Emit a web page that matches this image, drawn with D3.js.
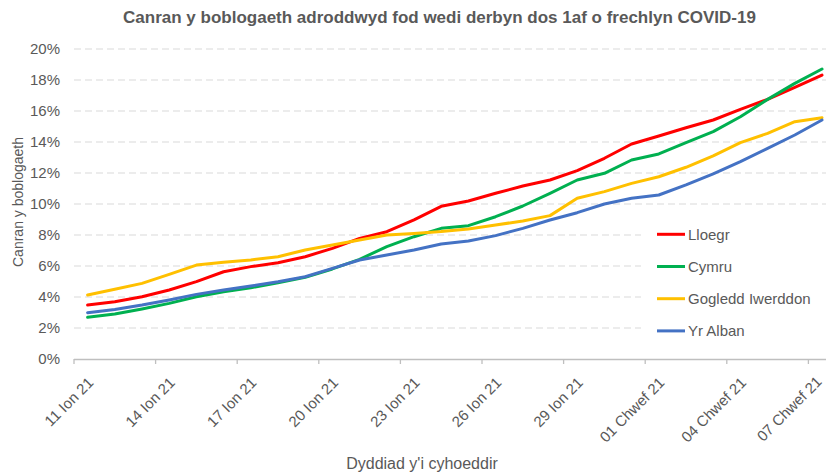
<!DOCTYPE html>
<html>
<head>
<meta charset="utf-8">
<script src="https://cdn.jsdelivr.net/npm/d3@7"></script>
<style>
  html, body { margin: 0; padding: 0; background: #fff; }
  svg { display: block; }
  text { font-family: "Liberation Sans", Arial, sans-serif; fill: #595959; }
</style>
</head>
<body>
<svg id="chart" width="826" height="475"></svg>
<script>
const dates = [
  "11 Ion 21","12 Ion 21","13 Ion 21","14 Ion 21","15 Ion 21","16 Ion 21","17 Ion 21",
  "18 Ion 21","19 Ion 21","20 Ion 21","21 Ion 21","22 Ion 21","23 Ion 21","24 Ion 21",
  "25 Ion 21","26 Ion 21","27 Ion 21","28 Ion 21","29 Ion 21","30 Ion 21","31 Ion 21",
  "01 Chwef 21","02 Chwef 21","03 Chwef 21","04 Chwef 21","05 Chwef 21","06 Chwef 21","07 Chwef 21"
];
const tickLabels = ["11 Ion 21","14 Ion 21","17 Ion 21","20 Ion 21","23 Ion 21","26 Ion 21",
  "29 Ion 21","01 Chwef 21","04 Chwef 21","07 Chwef 21"];
const yTicks = [0, 2, 4, 6, 8, 10, 12, 14, 16, 18, 20];

const lloegr = [3.48,3.70,4.02,4.45,4.99,5.63,5.96,6.21,6.60,7.14,7.78,8.21,8.97,9.85,
  10.19,10.69,11.16,11.55,12.15,12.95,13.87,14.39,14.92,15.42,16.11,16.75,17.53,18.32];
const cymru = [2.69,2.90,3.23,3.59,4.02,4.34,4.60,4.92,5.27,5.81,6.43,7.25,7.89,8.43,
  8.60,9.18,9.87,10.69,11.55,11.98,12.84,13.23,13.96,14.67,15.63,16.75,17.78,18.71];
const gogleddIwerddon = [4.13,4.50,4.88,5.46,6.06,6.24,6.39,6.60,7.03,7.35,7.68,8.00,8.10,8.22,
  8.39,8.65,8.90,9.25,10.37,10.80,11.33,11.76,12.37,13.10,13.96,14.56,15.31,15.57];
const yrAlban = [2.99,3.20,3.48,3.81,4.17,4.45,4.71,4.99,5.31,5.85,6.39,6.71,7.03,7.42,
  7.61,7.96,8.43,8.97,9.44,10.00,10.37,10.58,11.23,11.94,12.73,13.59,14.45,15.42];

const seriesNames = ["Lloegr","Cymru","Gogledd Iwerddon","Yr Alban"];
const seriesColors = ["#FF0000","#00B050","#FFC000","#4472C4"];
const seriesValues = [lloegr, cymru, gogleddIwerddon, yrAlban];

const svg = d3.select("#chart");
svg.append("rect").attr("width", 826).attr("height", 475).attr("fill", "#fff");

const x = d3.scaleBand().domain(dates).range([74, 835.6]).padding(0);
const y = d3.scaleLinear().domain([0, 20]).range([359, 49]);
const bw = x.bandwidth();
const cx = d => x(d) + bw / 2;

// title
svg.append("text")
  .attr("x", 439.5).attr("y", 23)
  .attr("text-anchor", "middle")
  .style("font-size", "17px").style("font-weight", "bold")
  .text("Canran y boblogaeth adroddwyd fod wedi derbyn dos 1af o frechlyn COVID-19");

// gridlines
svg.append("g")
  .selectAll("line")
  .data(yTicks.filter(t => t > 0))
  .join("line")
  .attr("x1", 74).attr("x2", 826)
  .attr("y1", d => y(d)).attr("y2", d => y(d))
  .attr("stroke", "#d9d9d9").attr("stroke-width", 1)
  .attr("stroke-dasharray", "7,4");

// y axis labels
const yAxis = d3.axisLeft(y).tickValues(yTicks).tickFormat(d => d + "%").tickSize(0).tickPadding(0);
const gy = svg.append("g").attr("transform", "translate(60,0)").call(yAxis);
gy.select(".domain").remove();
gy.selectAll("text").style("font-size", "15px").style("fill", "#595959")
  .style("font-family", "'Liberation Sans', Arial, sans-serif");

// x axis
const xAxis = d3.axisBottom(x).tickValues(tickLabels).tickSizeOuter(0).tickSizeInner(0);
const gx = svg.append("g").attr("transform", "translate(0,359)").call(xAxis);
gx.select(".domain").attr("stroke", "#bfbfbf").attr("stroke-width", 1.3)
  .attr("d", "M74,0.5H826");
gx.selectAll(".tick line").attr("x1", -bw / 2).attr("x2", -bw / 2)
  .attr("y1", 0).attr("y2", 5).attr("stroke", "#bfbfbf").attr("stroke-width", 1.3);
gx.selectAll(".tick text")
  .attr("y", 0).attr("dy", "0.35em")
  .attr("text-anchor", "end")
  .attr("transform", (d, i, n) => i === n.length - 1
    ? "translate(-3,20) rotate(-45)"
    : "translate(3,21) rotate(-45)")
  .style("font-size", "15px").style("fill", "#595959")
  .style("font-family", "'Liberation Sans', Arial, sans-serif");

// axis titles
svg.append("text")
  .attr("transform", "translate(23,202) rotate(-90)")
  .attr("text-anchor", "middle")
  .style("font-size", "14px")
  .text("Canran y boblogaeth");
svg.append("text")
  .attr("x", 422).attr("y", 469)
  .attr("text-anchor", "middle")
  .style("font-size", "16px")
  .text("Dyddiad y'i cyhoeddir");

// lines
const line = d3.line().x((v, i) => cx(dates[i])).y(v => y(v));
svg.append("g")
  .selectAll("path")
  .data(seriesValues)
  .join("path")
  .attr("d", d => line(d))
  .attr("fill", "none")
  .attr("stroke", (d, i) => seriesColors[i])
  .attr("stroke-width", 3)
  .attr("stroke-linejoin", "round")
  .attr("stroke-linecap", "round");

// legend
const lg = svg.append("g");
lg.append("rect").attr("x", 641).attr("y", 218).attr("width", 185).attr("height", 128).attr("fill", "#fff");
const items = lg.selectAll("g.item").data(seriesNames).join("g")
  .attr("class", "item")
  .attr("transform", (d, i) => `translate(657,${234.3 + i * 32.2})`);
items.append("line").attr("x1", 0).attr("x2", 28).attr("y1", 0).attr("y2", 0)
  .attr("stroke", (d, i) => seriesColors[i]).attr("stroke-width", 3);
items.append("text").attr("x", 31).attr("y", 0).attr("dy", "0.35em")
  .style("font-size", "15px").text(d => d);
</script>
</body>
</html>
